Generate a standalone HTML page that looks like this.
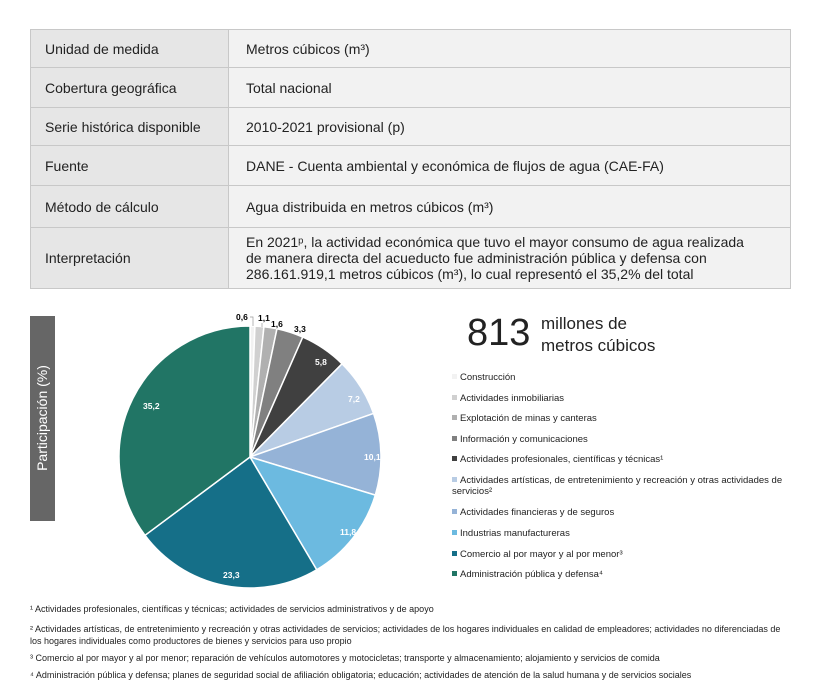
<!DOCTYPE html>
<html><head><meta charset="utf-8"><style>
body{margin:0;width:820px;height:690px;background:#fff;font-family:"Liberation Sans",sans-serif;position:relative;overflow:hidden;color:#222}
table{position:absolute;left:30px;top:29px;width:761px;border-collapse:collapse;font-size:14px}
td{border:1px solid #c8c8c8;padding:0 0 0 14px}
td.l{background:#e6e6e6;width:183px;color:#222}
td.v{background:#f2f2f2;padding-left:17px}
.leg{position:absolute;left:452px;font-size:9.5px;line-height:11px;width:340px}
.leg i{display:inline-block;width:5px;height:5px;margin-right:3px;vertical-align:1px}
.fn{position:absolute;left:30px;font-size:9px;line-height:11.5px;width:760px}
.lab{font-size:8.5px;font-weight:bold;fill:#000}
</style></head><body>
<table>
<tr style="height:38px"><td class="l">Unidad de medida</td><td class="v">Metros cúbicos (m³)</td></tr>
<tr style="height:40px"><td class="l">Cobertura geográfica</td><td class="v">Total nacional</td></tr>
<tr style="height:38px"><td class="l">Serie histórica disponible</td><td class="v">2010-2021 provisional (p)</td></tr>
<tr style="height:40px"><td class="l">Fuente</td><td class="v">DANE - Cuenta ambiental y económica de flujos de agua (CAE-FA)</td></tr>
<tr style="height:42px"><td class="l">Método de cálculo</td><td class="v">Agua distribuida en metros cúbicos (m³)</td></tr>
<tr style="height:61px"><td class="l">Interpretación</td><td class="v" style="line-height:16px;padding-right:40px">En 2021ᵖ, la actividad económica que tuvo el mayor consumo de agua realizada de manera directa del acueducto fue administración pública y defensa con 286.161.919,1 metros cúbicos (m³), lo cual representó el 35,2% del total</td></tr>
</table>
<div style="position:absolute;left:30px;top:316px;width:25px;height:205px;background:#666"></div>
<div style="position:absolute;left:42px;top:418px;transform:translate(-50%,-50%) rotate(-90deg);color:#fff;font-size:14px;white-space:nowrap">Participación (%)</div>
<svg id="pie" width="820" height="690" style="position:absolute;left:0;top:0"></svg>
<div style="position:absolute;left:467px;top:312px;font-size:38px">813</div>
<div style="position:absolute;left:541px;top:313px;font-size:17px;line-height:22px">millones de<br>metros cúbicos</div>
<div class="leg" style="top:372px"><i style="background:#f2f2f2"></i>Construcción</div>
<div class="leg" style="top:393px"><i style="background:#d0d0d0"></i>Actividades inmobiliarias</div>
<div class="leg" style="top:413px"><i style="background:#b0b0b0"></i>Explotación de minas y canteras</div>
<div class="leg" style="top:434px"><i style="background:#808080"></i>Información y comunicaciones</div>
<div class="leg" style="top:454px"><i style="background:#404040"></i>Actividades profesionales, científicas y técnicas¹</div>
<div class="leg" style="top:475px"><i style="background:#b8cce4"></i>Actividades artísticas, de entretenimiento y recreación y otras actividades de servicios²</div>
<div class="leg" style="top:507px"><i style="background:#95b3d7"></i>Actividades financieras y de seguros</div>
<div class="leg" style="top:528px"><i style="background:#6cbae0"></i>Industrias manufactureras</div>
<div class="leg" style="top:549px"><i style="background:#156f88"></i>Comercio al por mayor y al por menor³</div>
<div class="leg" style="top:569px"><i style="background:#217565"></i>Administración pública y defensa⁴</div>
<div class="fn" style="top:604px">¹ Actividades profesionales, científicas y técnicas; actividades de servicios administrativos y de apoyo</div>
<div class="fn" style="top:624px">² Actividades artísticas, de entretenimiento y recreación y otras actividades de servicios; actividades de los hogares individuales en calidad de empleadores; actividades no diferenciadas de los hogares individuales como productores de bienes y servicios para uso propio</div>
<div class="fn" style="top:653px">³ Comercio al por mayor y al por menor; reparación de vehículos automotores y motocicletas; transporte y almacenamiento; alojamiento y servicios de comida</div>
<div class="fn" style="top:670px">⁴ Administración pública y defensa; planes de seguridad social de afiliación obligatoria; educación; actividades de atención de la salud humana y de servicios sociales</div>
<script>
var d=[[0.6,"#f2f2f2"],[1.1,"#d0d0d0"],[1.6,"#b0b0b0"],[3.3,"#808080"],[5.8,"#404040"],[7.2,"#b8cce4"],[10.1,"#95b3d7"],[11.8,"#6cbae0"],[23.3,"#156f88"],[35.2,"#217565"]];
var cx=250,cy=457,r=131,a=0,s="";
d.forEach(function(e){var a2=a+e[0]/100*2*Math.PI;
var x1=cx+r*Math.sin(a),y1=cy-r*Math.cos(a),x2=cx+r*Math.sin(a2),y2=cy-r*Math.cos(a2);
s+='<path d="M'+cx+','+cy+'L'+x1+','+y1+'A'+r+','+r+' 0 '+(a2-a>Math.PI?1:0)+',1 '+x2+','+y2+'Z" fill="'+e[1]+'" stroke="#fff" stroke-width="1.5"/>';a=a2;});
var L=[["0,6",236,320,"#000"],["1,1",258,321,"#000"],["1,6",271,327,"#000"],["3,3",294,332,"#000"],["5,8",315,365,"#fff"],["7,2",348,402,"#fff"],["10,1",364,460,"#fff"],["11,8",340,535,"#fff"],["23,3",223,578,"#fff"],["35,2",143,409,"#fff"]];
L.forEach(function(l){s+='<text class="lab" x="'+l[1]+'" y="'+l[2]+'" style="fill:'+l[3]+'">'+l[0]+'</text>';});
s+='<polyline points="250,317 253,317 253,326" fill="none" stroke="#999" stroke-width="0.7"/><polyline points="262,323 262,327" fill="none" stroke="#999" stroke-width="0.7"/>';
document.getElementById("pie").innerHTML=s;
</script>
</body></html>
